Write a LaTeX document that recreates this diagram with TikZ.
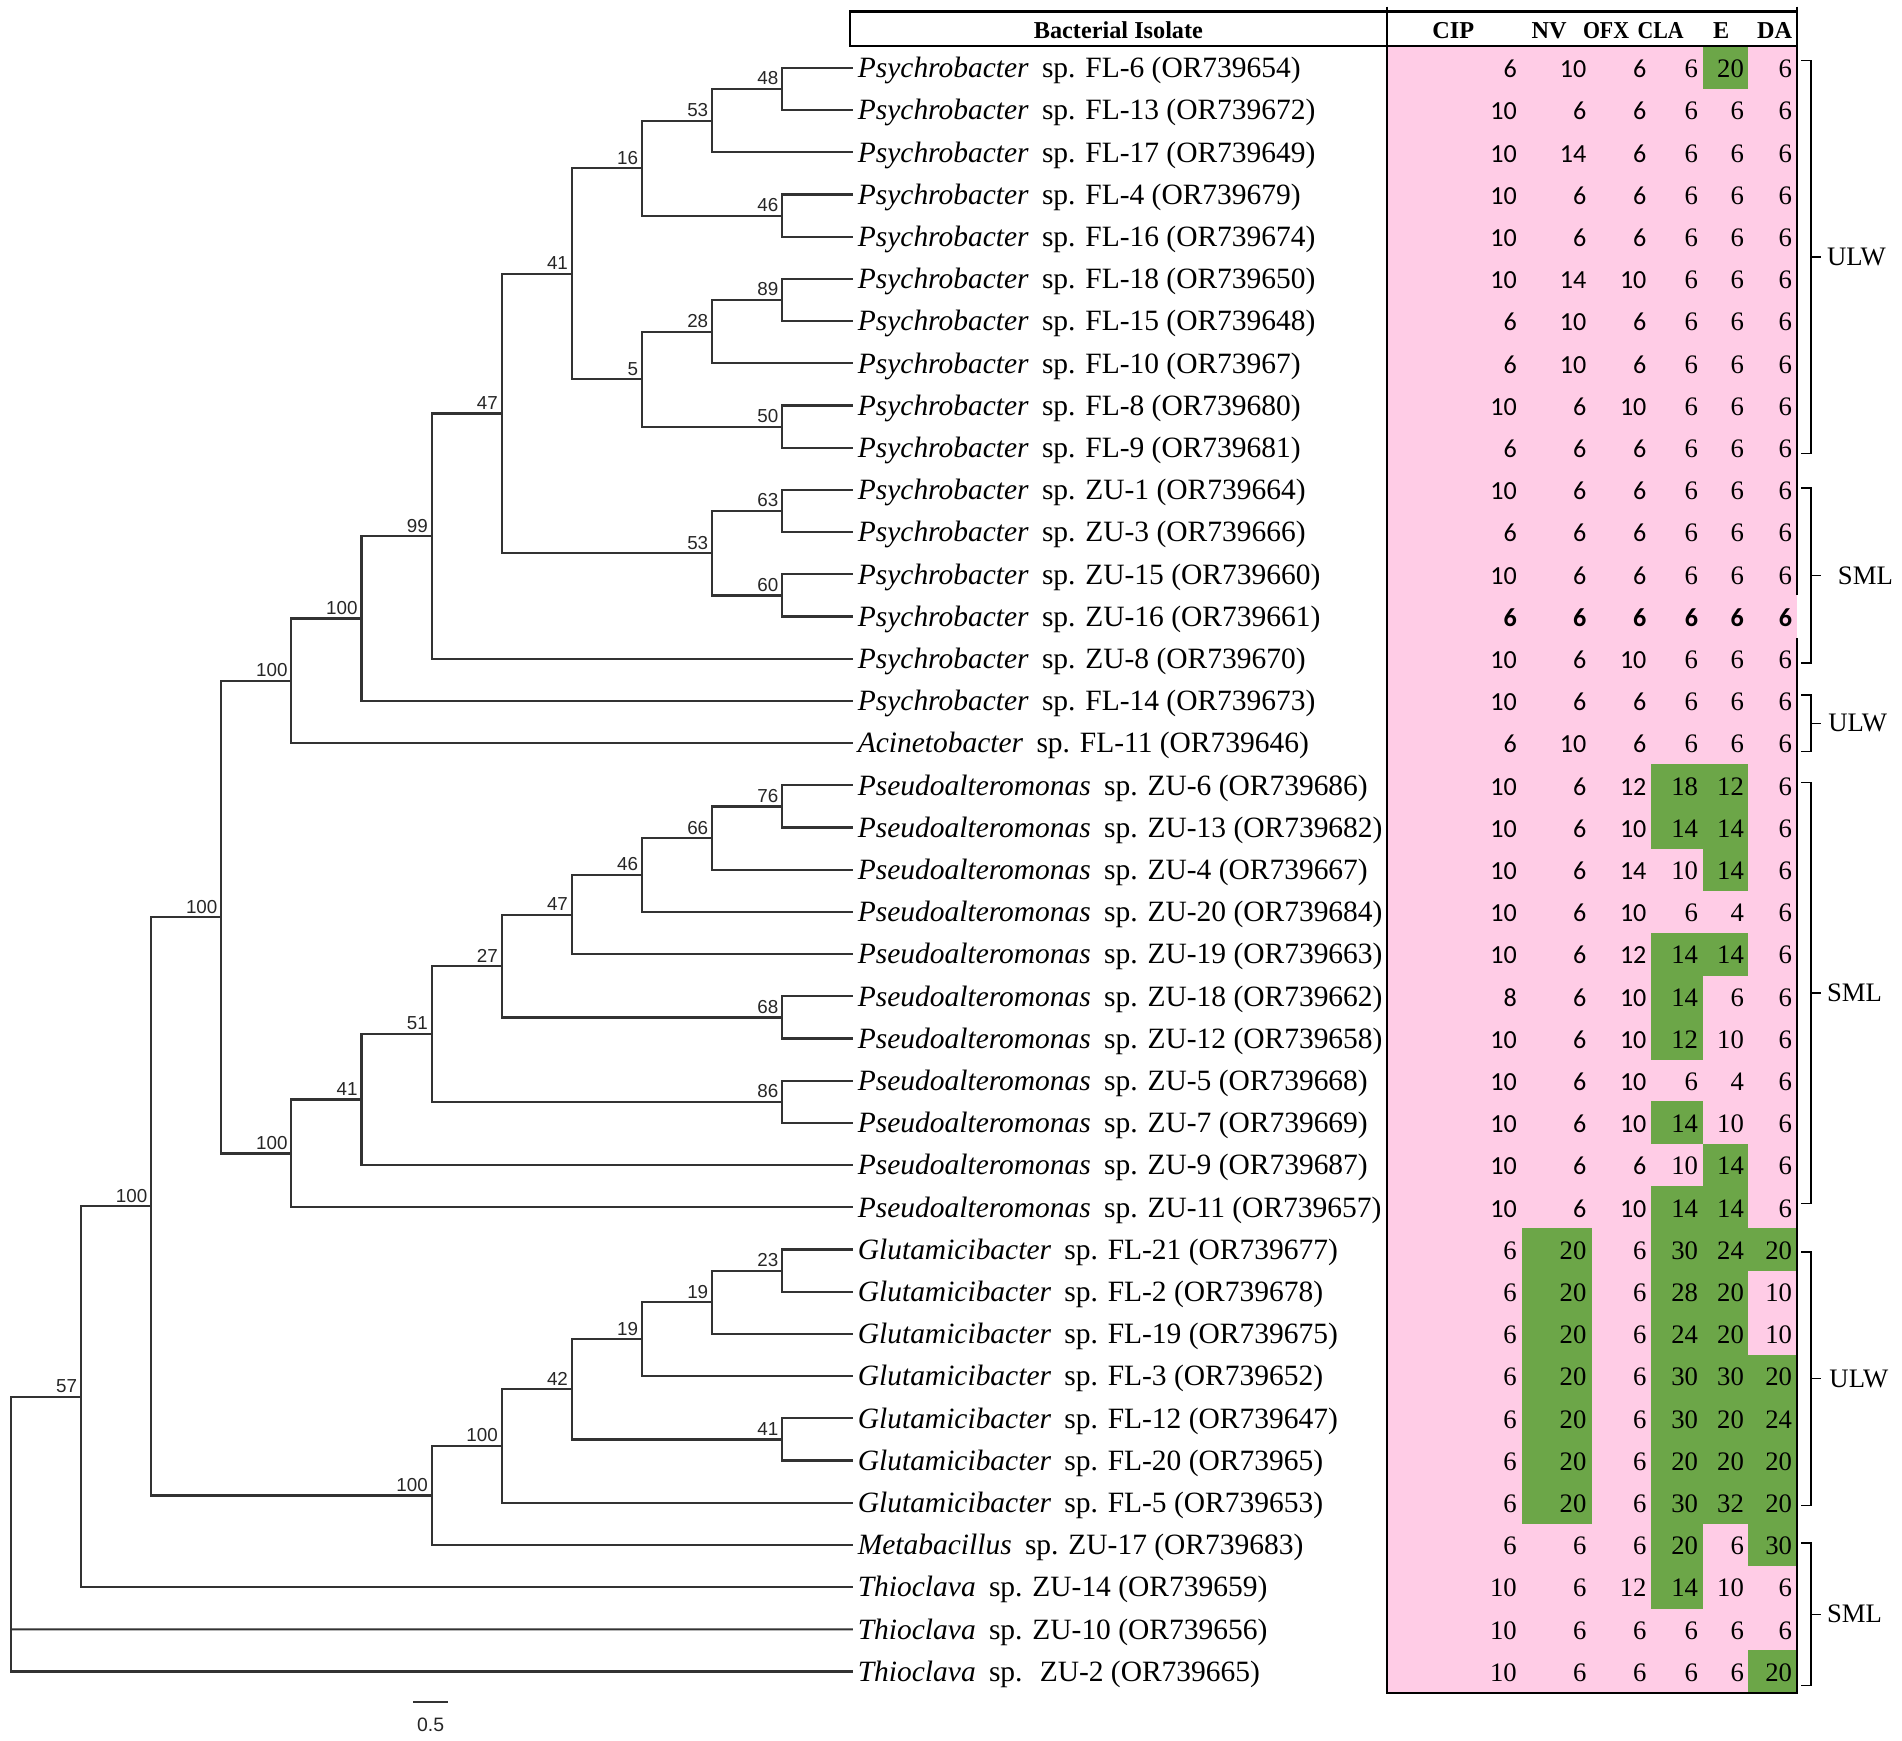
\documentclass[tikz,border=0pt]{standalone}
\usepackage{fontspec}
\setmainfont{Liberation Serif}
\newfontfamily\calfont{Carlito}
\newfontfamily\arfont{Liberation Sans}
\usetikzlibrary{calc}
\definecolor{cpink}{RGB}{255,204,230}
\definecolor{cgreen}{RGB}{108,166,72}
\definecolor{treecol}{RGB}{50,50,50}
\newcommand\mknode[4]{\path let \p1=($(#3)!0.5!(#4)$) in coordinate (#1) at ({9+57.8*#2},\y1);}
\newcommand\kids[3]{\draw[br] (#2) -| (#1) |- (#3);}
\newcommand\numA[1]{\ifcase#1 \calfont\fontsize{21.5}{24}\selectfont\or\fontsize{22}{24}\selectfont\or\calfont\bfseries\fontsize{21.5}{24}\selectfont\fi}
\newcommand\numB[1]{\ifcase#1 \fontsize{22}{24}\selectfont\or\fontsize{22}{24}\selectfont\or\calfont\bfseries\fontsize{21.5}{24}\selectfont\fi}
\begin{document}
\begin{tikzpicture}[x=1pt,y=-1pt,
  br/.style={draw=treecol,line width=1.8pt,line join=miter},
  blab/.style={font=\arfont\fontsize{15.5}{17}\selectfont,text=black!85,inner sep=0pt,anchor=south east},
  taxon/.style={font=\fontsize{24.3}{28}\selectfont,inner sep=0pt,anchor=base west},
  num/.style={inner sep=0pt,anchor=base east},
  hdr/.style={font=\bfseries\fontsize{20}{22}\selectfont,inner sep=0pt,anchor=base},
  grp/.style={font=\fontsize{22}{24}\selectfont,inner sep=0pt,anchor=west},
  brk/.style={draw=black,line width=1.1pt}]
\useasboundingbox (0,0) rectangle (1568,1435.2);

% ---------- table background ----------
\fill[cpink] (1143.5,38) rectangle (1481.5,1395.5);
\foreach \r/\c in {0/4,17/3,17/4,18/3,18/4,19/4,21/3,21/4,22/3,23/3,25/3,26/4,27/3,27/4,
  28/1,29/1,30/1,31/1,32/1,33/1,34/1,
  28/3,29/3,30/3,31/3,32/3,33/3,34/3,
  28/4,29/4,30/4,31/4,32/4,33/4,34/4,
  28/5,31/5,32/5,33/5,34/5,35/3,35/5,36/3,38/5}{
  \pgfmathsetmacro\xa{{1143.5,1255,1312,1361,1404,1441,1481.5}[\c]}
  \pgfmathsetmacro\xb{{1143.5,1255,1312,1361,1404,1441,1481.5}[\c+1]}
  \fill[cgreen] (\xa-0.3,{56+34.79*\r-17.7}) rectangle (\xb+0.3,{56+34.79*\r+17.7});
}

% ---------- table borders ----------
\draw[line width=2.2pt] (700.7,9.6) rectangle (1481.5,38);
\draw[line width=2pt] (1143.5,5.5) -- (1143.5,1395.5) -- (1481.5,1395.5) -- (1481.5,525.7);
\draw[line width=2pt] (1481.5,5.5) -- (1481.5,490.9);

% ---------- header ----------
\node[hdr] (hiso) at (922,32) {Bacterial Isolate};
\node[hdr] (hcip) at (1198,32) {CIP};
\node[hdr] (hnv)  at (1277,32) {NV};
\node[hdr] (hofx) at (1324,32) {\scalebox{0.9}[1]{OFX}};
\node[hdr] (hcla) at (1369,32) {\scalebox{0.9}[1]{CLA}};
\node[hdr] (he)   at (1419,32) {E};
\node[hdr] (hda)  at (1463,32) {DA};

% ---------- leaves ----------
\foreach \i in {0,...,38} \coordinate (L\i) at (703,{56+34.79*\i});

\foreach \i/\g/\r in {0/Psychrobacter/FL-6 (OR739654),1/Psychrobacter/FL-13 (OR739672),
 2/Psychrobacter/FL-17 (OR739649),3/Psychrobacter/FL-4 (OR739679),4/Psychrobacter/FL-16 (OR739674),
 5/Psychrobacter/FL-18 (OR739650),6/Psychrobacter/FL-15 (OR739648),7/Psychrobacter/FL-10 (OR73967),
 8/Psychrobacter/FL-8 (OR739680),9/Psychrobacter/FL-9 (OR739681),10/Psychrobacter/ZU-1 (OR739664),
 11/Psychrobacter/ZU-3 (OR739666),12/Psychrobacter/ZU-15 (OR739660),13/Psychrobacter/ZU-16 (OR739661),
 14/Psychrobacter/ZU-8 (OR739670),15/Psychrobacter/FL-14 (OR739673),16/Acinetobacter/FL-11 (OR739646),
 17/Pseudoalteromonas/ZU-6 (OR739686),18/Pseudoalteromonas/ZU-13 (OR739682),19/Pseudoalteromonas/ZU-4 (OR739667),
 20/Pseudoalteromonas/ZU-20 (OR739684),21/Pseudoalteromonas/ZU-19 (OR739663),22/Pseudoalteromonas/ZU-18 (OR739662),
 23/Pseudoalteromonas/ZU-12 (OR739658),24/Pseudoalteromonas/ZU-5 (OR739668),25/Pseudoalteromonas/ZU-7 (OR739669),
 26/Pseudoalteromonas/ZU-9 (OR739687),27/Pseudoalteromonas/ZU-11 (OR739657),28/Glutamicibacter/FL-21 (OR739677),
 29/Glutamicibacter/FL-2 (OR739678),30/Glutamicibacter/FL-19 (OR739675),31/Glutamicibacter/FL-3 (OR739652),
 32/Glutamicibacter/FL-12 (OR739647),33/Glutamicibacter/FL-20 (OR73965),34/Glutamicibacter/FL-5 (OR739653),
 35/Metabacillus/ZU-17 (OR739683),36/Thioclava/ZU-14 (OR739659),37/Thioclava/ZU-10 (OR739656),
 38/Thioclava/{\ ZU-2 (OR739665)}}
  \node[taxon] (t\i) at (707,{56+34.79*\i+8}) {\textit{\g}\hspace{0.45em}sp. \r};

% ---------- table values ----------
\foreach \i/\t/\va/\vb/\vc/\vd/\ve/\vf in {0/0/6/10/6/6/20/6,1/0/10/6/6/6/6/6,2/0/10/14/6/6/6/6,
 3/0/10/6/6/6/6/6,4/0/10/6/6/6/6/6,5/0/10/14/10/6/6/6,6/0/6/10/6/6/6/6,7/0/6/10/6/6/6/6,
 8/0/10/6/10/6/6/6,9/0/6/6/6/6/6/6,10/0/10/6/6/6/6/6,11/0/6/6/6/6/6/6,12/0/10/6/6/6/6/6,
 13/2/6/6/6/6/6/6,14/0/10/6/10/6/6/6,15/0/10/6/6/6/6/6,16/0/6/10/6/6/6/6,
 17/0/10/6/12/18/12/6,18/0/10/6/10/14/14/6,19/0/10/6/14/10/14/6,20/0/10/6/10/6/4/6,
 21/0/10/6/12/14/14/6,22/0/8/6/10/14/6/6,23/0/10/6/10/12/10/6,24/0/10/6/10/6/4/6,
 25/0/10/6/10/14/10/6,26/0/10/6/6/10/14/6,27/0/10/6/10/14/14/6,
 28/1/6/20/6/30/24/20,29/1/6/20/6/28/20/10,30/1/6/20/6/24/20/10,31/1/6/20/6/30/30/20,
 32/1/6/20/6/30/20/24,33/1/6/20/6/20/20/20,34/1/6/20/6/30/32/20,35/1/6/6/6/20/6/30,
 36/1/10/6/12/14/10/6,37/1/10/6/6/6/6/6,38/1/10/6/6/6/6/20}{
  \node[num,font=\numA{\t}] (va\i) at (1250.6,{56+34.79*\i+8}) {\va};
  \node[num,font=\numA{\t}] (vb\i) at (1308,{56+34.79*\i+8}) {\vb};
  \node[num,font=\numA{\t}] (vc\i) at (1357.5,{56+34.79*\i+8}) {\vc};
  \node[num,font=\numB{\t}] (vd\i) at (1400,{56+34.79*\i+8}) {\vd};
  \node[num,font=\numB{\t}] (ve\i) at (1437.8,{56+34.79*\i+8}) {\ve};
  \node[num,font=\numB{\t}] (vf\i) at (1477.5,{56+34.79*\i+8}) {\vf};
}

% ---------- tree nodes ----------
\mknode{n48}{11}{L0}{L1}
\mknode{n53a}{10}{n48}{L2}
\mknode{n46a}{11}{L3}{L4}
\mknode{n16}{9}{n53a}{n46a}
\mknode{n89}{11}{L5}{L6}
\mknode{n28}{10}{n89}{L7}
\mknode{n50}{11}{L8}{L9}
\mknode{n5}{9}{n28}{n50}
\mknode{n41a}{8}{n16}{n5}
\mknode{n63}{11}{L10}{L11}
\mknode{n60}{11}{L12}{L13}
\mknode{n53b}{10}{n63}{n60}
\mknode{n47a}{7}{n41a}{n53b}
\mknode{n99}{6}{n47a}{L14}
\mknode{n100a}{5}{n99}{L15}
\mknode{n100b}{4}{n100a}{L16}
\mknode{n76}{11}{L17}{L18}
\mknode{n66}{10}{n76}{L19}
\mknode{n46b}{9}{n66}{L20}
\mknode{n47b}{8}{n46b}{L21}
\mknode{n68}{11}{L22}{L23}
\mknode{n27}{7}{n47b}{n68}
\mknode{n86}{11}{L24}{L25}
\mknode{n51}{6}{n27}{n86}
\mknode{n41b}{5}{n51}{L26}
\mknode{n100c}{4}{n41b}{L27}
\mknode{n100d}{3}{n100b}{n100c}
\mknode{n23}{11}{L28}{L29}
\mknode{n19a}{10}{n23}{L30}
\mknode{n19b}{9}{n19a}{L31}
\mknode{n41c}{11}{L32}{L33}
\mknode{n42}{8}{n19b}{n41c}
\mknode{n100e}{7}{n42}{L34}
\mknode{n100f}{6}{n100e}{L35}
\mknode{n100g}{2}{n100d}{n100f}
\mknode{n57}{1}{n100g}{L36}
\mknode{root}{0}{L37}{L37}

% ---------- branches ----------
\kids{n48}{L0}{L1}
\kids{n53a}{n48}{L2}
\kids{n46a}{L3}{L4}
\kids{n16}{n53a}{n46a}
\kids{n89}{L5}{L6}
\kids{n28}{n89}{L7}
\kids{n50}{L8}{L9}
\kids{n5}{n28}{n50}
\kids{n41a}{n16}{n5}
\kids{n63}{L10}{L11}
\kids{n60}{L12}{L13}
\kids{n53b}{n63}{n60}
\kids{n47a}{n41a}{n53b}
\kids{n99}{n47a}{L14}
\kids{n100a}{n99}{L15}
\kids{n100b}{n100a}{L16}
\kids{n76}{L17}{L18}
\kids{n66}{n76}{L19}
\kids{n46b}{n66}{L20}
\kids{n47b}{n46b}{L21}
\kids{n68}{L22}{L23}
\kids{n27}{n47b}{n68}
\kids{n86}{L24}{L25}
\kids{n51}{n27}{n86}
\kids{n41b}{n51}{L26}
\kids{n100c}{n41b}{L27}
\kids{n100d}{n100b}{n100c}
\kids{n23}{L28}{L29}
\kids{n19a}{n23}{L30}
\kids{n19b}{n19a}{L31}
\kids{n41c}{L32}{L33}
\kids{n42}{n19b}{n41c}
\kids{n100e}{n42}{L34}
\kids{n100f}{n100e}{L35}
\kids{n100g}{n100d}{n100f}
\kids{n57}{n100g}{L36}
\kids{root}{n57}{L38}
\draw[br] (root) -- (L37);

% ---------- bootstrap labels ----------
\foreach \n/\v in {n48/48,n53a/53,n46a/46,n16/16,n89/89,n28/28,n50/50,n5/5,n41a/41,n63/63,n60/60,
  n53b/53,n47a/47,n99/99,n100a/100,n100b/100,n76/76,n66/66,n46b/46,n47b/47,n68/68,n27/27,n86/86,
  n51/51,n41b/41,n100c/100,n100d/100,n23/23,n19a/19,n19b/19,n41c/41,n42/42,n100e/100,n100f/100,
  n100g/100,n57/57}
  \node[blab] (lb\n) at ([xshift=-3pt,yshift=3pt]\n) {\v};

% ---------- scale bar ----------
\coordinate (sb1) at (340.7,1403);
\coordinate (sb2) at (369.6,1403);
\draw[br] (sb1) -- (sb2);
\node[blab,anchor=center,font=\arfont\fontsize{16}{18}\selectfont] (sblab) at (355,1422) {0.5};

% ---------- group brackets ----------
\foreach \k/\ya/\yb/\lab/\lx in {1/50/373.7/ULW/1506,2/402.4/546.6/SML/1515,3/573/619.7/ULW/1507,
  4/645.3/992/SML/1506,5/1032/1241/ULW/1508,6/1272/1389.5/SML/1506}{
  \draw[brk] (1485,\ya) -- (1493,\ya) -- (1493,\yb) -- (1485,\yb);
  \draw[brk] (1493,{(\ya+\yb)/2}) -- (1501,{(\ya+\yb)/2});
  \node[grp] (grp\k) at (\lx,{(\ya+\yb)/2}) {\lab};
}
\end{tikzpicture}
\end{document}
